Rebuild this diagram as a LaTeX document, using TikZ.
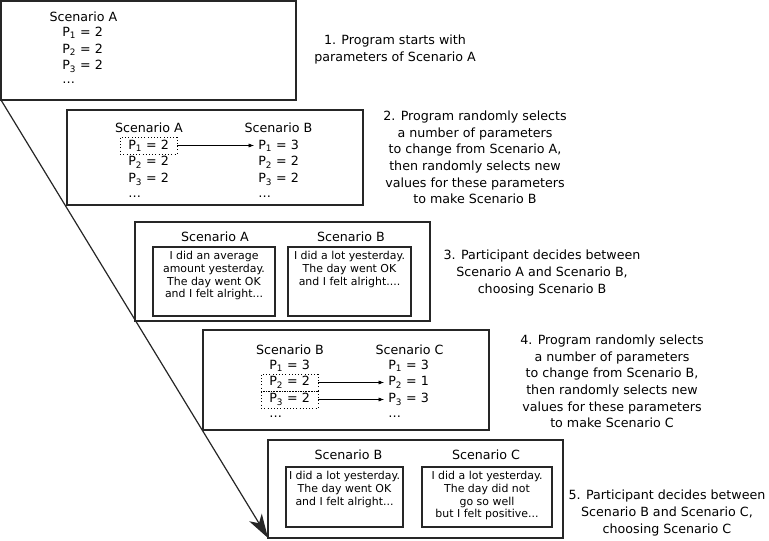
\documentclass[tikz,border=0pt]{standalone}
\usepackage{fontspec}
\setmainfont{DejaVu Sans}
\usetikzlibrary{arrows.meta}

\begin{document}
\begin{tikzpicture}[x=0.75pt,y=-0.75pt,
	panel/.style={black!85,line width=0.9pt},
	title/.style={inner sep=0pt,font=\fontsize{9.5}{12.4}\selectfont},
	prm/.style={anchor=west,inner sep=0pt,font=\fontsize{9.5}{12.4}\selectfont},
	pick/.style={prm,draw,dotted,inner xsep=6pt,minimum height=12.75pt},
	note/.style={align=center,inner sep=0pt,font=\fontsize{9.5}{12.4}\selectfont},
	say/.style={anchor=north,align=center,inner sep=0pt,font=\fontsize{8.2}{9.6}\selectfont},
	link/.style={-{Latex[length=4pt,width=3pt]},thin,shorten >=3pt}]
	\useasboundingbox (0,0) rectangle (769,541);
	
	\draw[panel] (1,1) rectangle (296,100);
	\coordinate (start) at (1,100);
	\node[title] (s1a) at (83.5,17) {Scenario A};
	\node[prm] (a1) at (62,33) {P\textsubscript{1} = 2};
	\node[prm] (a2) at (62,50) {P\textsubscript{2} = 2};
	\node[prm] (a3) at (62,66.5) {P\textsubscript{3} = 2};
	\node[prm] (a4) at (62,83) {\dots};
	\node[note] (n1) at (395,49.5) {1. Program starts with\\parameters of Scenario A};
	
	\draw[panel] (67,110) rectangle (363,205);
	\node[title] (s2a) at (149,128) {Scenario A};
	\node[title] (s2b) at (278.5,128) {Scenario B};
	\node[pick] (pa1) at (120,145.5) {P\textsubscript{1} = 2};
	\node[prm] (pa2) at (128,162.5) {P\textsubscript{2} = 2};
	\node[prm] (pa3) at (128,179.5) {P\textsubscript{3} = 2};
	\node[prm] (pa4) at (128,196.5) {\dots};
	\node[prm] (pb1) at (258,145.5) {P\textsubscript{1} = 3};
	\node[prm] (pb2) at (258,162.5) {P\textsubscript{2} = 2};
	\node[prm] (pb3) at (258,179.5) {P\textsubscript{3} = 2};
	\node[prm] (pb4) at (258,196.5) {\dots};
	\draw[link] (pa1) -- (pb1);
	\node[note] (n2) at (475,157.5) {2. Program randomly selects\\a number of parameters\\to change from Scenario A,\\then randomly selects new\\values for these parameters\\to make Scenario B};
	
	\draw[panel] (135,222) rectangle (430,321);
	\node[title] (s3a) at (215,237) {Scenario A};
	\node[title] (s3b) at (351,237) {Scenario B};
	\draw[panel] (153,247) rectangle (275,316);
	\draw[panel] (288,247) rectangle (411,316);
	\node[say] (t3a) at (214,251) {I did an average\\amount yesterday.\\The day went OK\\and I felt alright...};
	\node[say] (t3b) at (349.5,251) {I did a lot yesterday.\\The day went OK\\and I felt alright....};
	\node[note] (n3) at (542,273) {3. Participant decides between\\Scenario A and Scenario B,\\choosing Scenario B};
	
	\draw[panel] (203,330) rectangle (489,430);
	\node[title] (s4b) at (290,350) {Scenario B};
	\node[title] (s4c) at (409.5,350) {Scenario C};
	\node[prm] (qb1) at (269,365.5) {P\textsubscript{1} = 3};
	\node[pick] (qb2) at (261,382.5) {P\textsubscript{2} = 2};
	\node[pick] (qb3) at (261,399.5) {P\textsubscript{3} = 2};
	\node[prm] (qb4) at (269,416.5) {\dots};
	\node[prm] (qc1) at (388,365.5) {P\textsubscript{1} = 3};
	\node[prm] (qc2) at (388,382.5) {P\textsubscript{2} = 1};
	\node[prm] (qc3) at (388,399.5) {P\textsubscript{3} = 3};
	\node[prm] (qc4) at (388,416.5) {\dots};
	\draw[link] (qb2) -- (qc2);
	\draw[link] (qb3) -- (qc3);
	\node[note] (n4) at (612,381.5) {4. Program randomly selects\\a number of parameters\\to change from Scenario B,\\then randomly selects new\\values for these parameters\\to make Scenario C};
	
	\draw[panel] (268,440) rectangle (563,538);
	\coordinate (end) at (268,538);
	\node[title] (s5b) at (348.5,455) {Scenario B};
	\node[title] (s5c) at (486,455) {Scenario C};
	\draw[panel] (286,467) rectangle (403,527);
	\draw[panel] (422,467) rectangle (552,527);
	\node[say] (t5b) at (344.5,471) {I did a lot yesterday.\\The day went OK\\and I felt alright...};
	\node[say] (t5c) at (487,471) {I did a lot yesterday.\\The day did not\\go so well\\but I felt positive...};
	\node[note] (n5) at (667,513) {5. Participant decides between\\Scenario B and Scenario C,\\choosing Scenario C};
	
	\draw[panel,-{Stealth[length=18pt,width=11pt,inset=5pt]}] (start) -- (end);
\end{tikzpicture}
\end{document}
